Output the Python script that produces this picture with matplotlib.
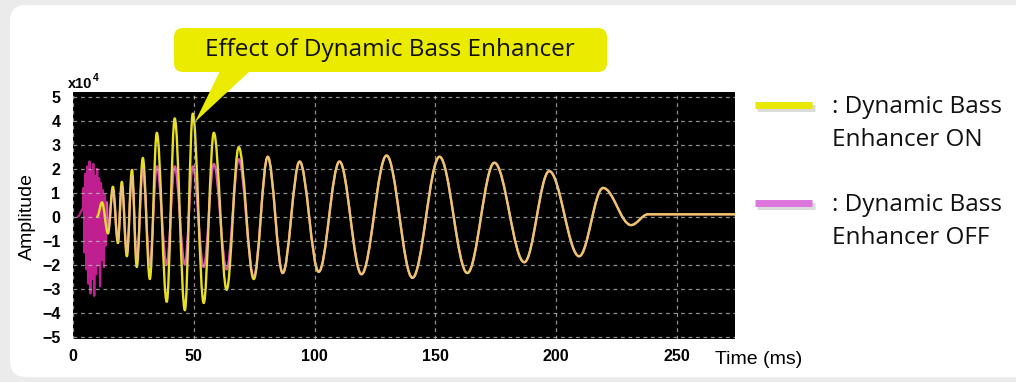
import matplotlib.pyplot as plt
from matplotlib.patches import FancyBboxPatch, Polygon, PathPatch
from matplotlib.path import Path

# peaks / troughs (time in ms, amplitude in 1e4)
on_t = [10.0, 12.0, 14.5, 16.5, 18.6, 20.2, 22.3, 24.4, 26.4, 28.9, 31.8, 34.7, 38.8,
        42.1, 46.3, 49.6, 54.1, 58.3, 63.6, 68.6, 74.8, 80.6, 86.8, 93.8, 101.7, 110.3,
        119.4, 129.8, 140.5, 151.7, 163.2, 174.4, 186.8, 197.1, 209.5, 219.4, 231.0,
        238.0, 274.0]
on_amp = [0.0, 0.6, -0.7, 1.25, -1.1, 1.45, -1.65, 1.95, -2.1, 2.45, -2.6, 3.5, -3.55,
          4.1, -3.9, 4.3, -3.6, 3.5, -3.05, 2.9, -2.6, 2.5, -2.35, 2.3, -2.3, 2.3,
          -2.4, 2.55, -2.55, 2.5, -2.35, 2.25, -1.9, 1.9, -1.65, 1.2, -0.35,
          0.1, 0.1]

off_t = [2.0, 4.0, 4.4, 4.8, 5.2, 5.6, 6.0, 6.4, 6.8, 7.2, 7.6, 8.0, 8.4, 8.8, 9.2,
         9.6, 10.0, 10.4, 10.8, 11.2, 11.6, 12.0, 12.4, 12.8, 13.2, 13.6, 14.0,
         14.5, 16.5, 18.6, 20.2, 22.3, 24.4, 26.4, 28.9, 31.8, 34.7, 38.8, 42.1, 46.3,
         49.6, 54.1, 58.3, 63.6, 68.6, 74.8, 80.6, 86.8, 93.8, 101.7, 110.3, 119.4,
         129.8, 140.5, 151.7, 163.2, 174.4, 186.8, 197.1, 209.5, 219.4, 231.0, 238.0,
         274.0]
off_amp = [0.0, 0.3, 1.2, -1.5, 1.8, -2.2, 2.1, -2.8, 2.3, -3.2, 1.9, -2.6, 2.2, -3.3,
           1.7, -2.4, 2.0, -2.0, 1.6, -2.9, 1.4, -1.8, 1.1, -2.1, 0.9, -1.2, 0.6,
           -0.6, 1.1, -1.0, 1.3, -1.5, 1.7, -1.8, 2.0, -2.0, 2.1, -2.0, 2.1, -2.0,
           2.1, -2.1, 2.2, -2.2, 2.4, -2.5, 2.5, -2.35, 2.3, -2.3, 2.3, -2.4,
           2.55, -2.55, 2.5, -2.35, 2.25, -1.9, 1.9, -1.65, 1.2, -0.35, 0.1,
           0.1]

x_ticks = [0, 50, 100, 150, 200, 250]
y_ticks = [-5, -4, -3, -2, -1, 0, 1, 2, 3, 4, 5]

W, H = 1016, 382
ON_COLOR = '#e8e020'
OFF_COLOR = '#c0208f'
OFF_GLOW = '#f0a0e0'
CALLOUT = '#ebeb00'
TEXT_FONT = ['Open Sans', 'DejaVu Sans']
AX_FONT = ['Liberation Sans', 'DejaVu Sans']
NOISE_END = 26  # index in off_t where the burst stops


def smooth_trace(t, a, color, lw, alpha=1.0):
    # joins the read extrema with flat-tangent bezier segments (scope look)
    verts = [(t[0], a[0])]
    codes = [Path.MOVETO]
    for i in range(1, len(t)):
        d = (t[i] - t[i - 1]) * 0.36
        verts += [(t[i - 1] + d, a[i - 1]), (t[i] - d, a[i]), (t[i], a[i])]
        codes += [Path.CURVE4] * 3
    return PathPatch(Path(verts, codes), fill=False, ec=color, lw=lw, alpha=alpha,
                     capstyle='round', joinstyle='round')


fig = plt.figure(figsize=(W / 100, H / 100), dpi=100, facecolor='#ebebeb')

# white rounded panel, pixel coordinates
bg = fig.add_axes([0, 0, 1, 1], zorder=0)
bg.set_xlim(0, W)
bg.set_ylim(H, 0)
bg.axis('off')
bg.add_patch(FancyBboxPatch((10, 5), 1040, 372, boxstyle='round,pad=0,rounding_size=16',
                            fc='white', ec='none'))

ax = fig.add_axes([73 / W, 1 - 339 / H, (735 - 73) / W, (339 - 92) / H], zorder=1)
ax.set_facecolor('black')
ax.add_patch(smooth_trace(off_t, off_amp, OFF_COLOR, 1.6))
ax.add_patch(smooth_trace(on_t, on_amp, ON_COLOR, 1.7))
# pink overlay where both traces run together
ax.add_patch(smooth_trace(off_t[NOISE_END:], off_amp[NOISE_END:], OFF_GLOW, 1.5, alpha=0.45))
ax.set_xlim(0, 274)
ax.set_ylim(-5.1, 5.2)
ax.set_xticks(x_ticks)
ax.set_yticks(y_ticks)
ax.grid(True, color='#c0c0c0', ls=(0, (3, 3)), lw=0.9, alpha=0.75)
for gl in ax.get_ygridlines():
    if abs(gl.get_ydata()[0]) == 5:
        gl.set_visible(False)
for s in ax.spines.values():
    s.set_visible(False)
ax.tick_params(axis='x', length=0, pad=7)
ax.tick_params(axis='y', length=0, pad=9)
for lab in ax.get_xticklabels() + ax.get_yticklabels():
    lab.set_fontfamily(AX_FONT)
    lab.set_fontweight('bold')
    lab.set_fontsize(11.5)

bg.text(68, 88, 'x10', fontfamily=AX_FONT, fontweight='bold', fontsize=10.5, va='baseline')
bg.text(92.5, 81, '4', fontfamily=AX_FONT, fontweight='bold', fontsize=7.5, va='baseline')
bg.text(27, 217, 'Amplitude', rotation=90, ha='center', va='center',
        fontfamily=AX_FONT, fontsize=14)
bg.text(715, 359, 'Time (ms)', ha='left', va='center', fontfamily=AX_FONT, fontsize=14)

# overlay for callout and legend
top = fig.add_axes([0, 0, 1, 1], zorder=3)
top.set_xlim(0, W)
top.set_ylim(H, 0)
top.axis('off')
top.patch.set_alpha(0)
top.add_patch(FancyBboxPatch((174, 28), 433, 44, boxstyle='round,pad=0,rounding_size=9',
                             fc=CALLOUT, ec='none'))
top.add_patch(Polygon([(220, 71), (250, 71), (195, 122)], closed=True, fc=CALLOUT, ec='none'))
top.text(390, 50, 'Effect of Dynamic Bass Enhancer', ha='center', va='center',
         fontfamily=TEXT_FONT, fontsize=17.5, color='#111111')

legend = [(105, '#e8e800', ': Dynamic Bass', 'Enhancer ON'),
          (203, '#dd77dd', ': Dynamic Bass', 'Enhancer OFF')]
for y, c, l1, l2 in legend:
    top.plot([757, 815], [y + 3, y + 3], color='#999999', lw=5, alpha=0.35,
             solid_capstyle='butt')
    top.plot([755, 812], [y, y], color=c, lw=5, solid_capstyle='butt')
    top.text(832, y + 2, l1, ha='left', va='center', fontfamily=TEXT_FONT,
             fontsize=17.5, color='#111111')
    top.text(832, y + 35, l2, ha='left', va='center', fontfamily=TEXT_FONT,
             fontsize=17.5, color='#111111')

plt.savefig('out.png', dpi=100, facecolor=fig.get_facecolor())
